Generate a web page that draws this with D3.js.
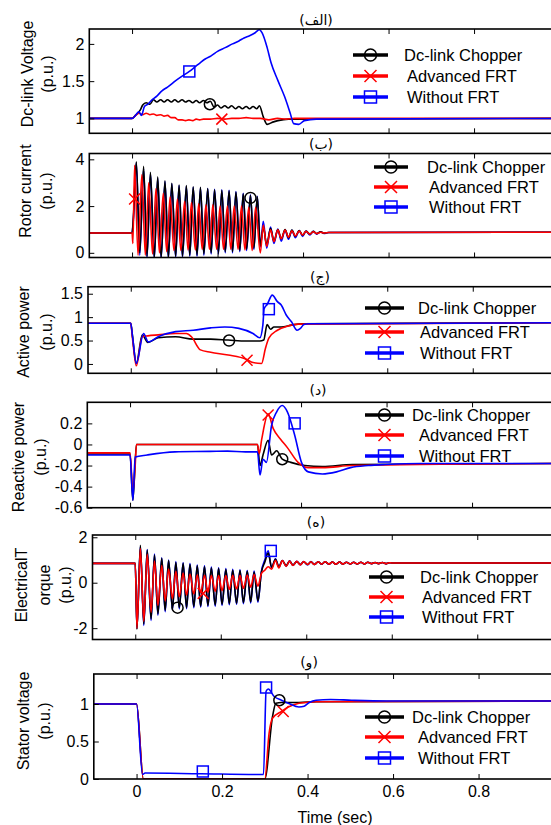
<!DOCTYPE html>
<html>
<head>
<meta charset="utf-8">
<script src="https://cdn.jsdelivr.net/npm/d3@7"></script>
<style>
  body { margin: 0; background: #fff; }
  svg { display: block; font-family: "Liberation Sans", Arial, sans-serif; }
</style>
</head>
<body>
<div id="chart"></div>
<script>
// ---- (الف) Dc-link voltage ----
const dcChopperT = [-0.1, 0, 0.008, 0.019, 0.025, 0.033, 0.042, 0.050, 0.058, 0.067, 0.075, 0.083, 0.092, 0.100, 0.108, 0.117, 0.125, 0.133, 0.142, 0.150, 0.158, 0.167, 0.175, 0.183, 0.192, 0.200, 0.208, 0.217, 0.225, 0.233, 0.242, 0.250, 0.258, 0.267, 0.275, 0.283, 0.292, 0.298, 0.307, 0.316, 0.329, 0.341, 0.366, 1.0];
const dcChopperV = [1, 1, 1.04, 1.11, 1.18, 1.21, 1.19, 1.25, 1.22, 1.25, 1.22, 1.25, 1.22, 1.25, 1.22, 1.25, 1.22, 1.24, 1.21, 1.24, 1.21, 1.24, 1.21, 1.23, 1.15, 1.18, 1.14, 1.17, 1.14, 1.17, 1.13, 1.16, 1.13, 1.16, 1.13, 1.16, 1.13, 1.17, 1.02, 0.92, 0.95, 0.97, 0.99, 1.0];
const dcAdvancedT = [-0.1, 0, 0.008, 0.017, 0.025, 0.033, 0.042, 0.050, 0.058, 0.067, 0.075, 0.083, 0.092, 0.100, 0.108, 0.117, 0.125, 0.133, 0.142, 0.150, 0.158, 0.167, 0.183, 0.200, 0.217, 0.233, 0.250, 0.267, 0.283, 0.300, 0.320, 0.340, 0.360, 0.380, 1.0];
const dcAdvancedV = [1, 1, 1.04, 1.07, 1.05, 1.07, 1.05, 1.06, 1.04, 1.05, 1.03, 1.04, 1.01, 1.01, 0.98, 0.98, 0.97, 0.98, 0.97, 0.99, 0.98, 0.99, 0.99, 1.0, 0.99, 1.0, 1.0, 1.01, 1.0, 1.0, 0.98, 1.0, 0.99, 1.0, 1.0];
const dcWithoutT = [-0.1, 0, 0.008, 0.016, 0.022, 0.029, 0.037, 0.045, 0.058, 0.070, 0.083, 0.103, 0.118, 0.134, 0.147, 0.160, 0.172, 0.185, 0.200, 0.218, 0.235, 0.250, 0.262, 0.275, 0.288, 0.298, 0.304, 0.316, 0.325, 0.341, 0.357, 0.370, 0.378, 0.390, 0.403, 0.431, 1.0];
const dcWithoutV = [1, 1, 1.04, 1.09, 1.04, 1.16, 1.19, 1.24, 1.30, 1.37, 1.42, 1.51, 1.57, 1.63, 1.69, 1.75, 1.80, 1.84, 1.90, 1.95, 2.00, 2.04, 2.08, 2.11, 2.15, 2.19, 2.15, 1.95, 1.75, 1.51, 1.29, 1.07, 0.93, 0.92, 0.97, 0.99, 1.0];
const dcMarkers = [["chopper", 0.182, 1.19], ["advanced", 0.21, 0.99], ["without", 0.134, 1.63]];

// ---- (ب) Rotor current ----
const rotorT = [-0.1, 0, 0.003,
  0.010, 0.018, 0.027, 0.035, 0.043, 0.052, 0.060, 0.068, 0.077, 0.085, 0.093, 0.102, 0.110, 0.118, 0.127, 0.135, 0.143, 0.152,
  0.160, 0.168, 0.177, 0.185, 0.193, 0.202, 0.210, 0.218, 0.227, 0.235, 0.243, 0.252, 0.260, 0.268, 0.277, 0.285, 0.293,
  0.300, 0.307, 0.315, 0.324, 0.332, 0.341, 0.349, 0.358, 0.366, 0.374, 0.382, 0.391, 0.399, 0.407, 0.416, 0.424, 0.432, 0.441, 0.449, 0.460, 1.0];
const rotorRedT = [-0.1, 0, 0.002,
  0.006, 0.014, 0.023, 0.031, 0.039, 0.048, 0.056, 0.064, 0.073, 0.081, 0.089, 0.098, 0.106, 0.114, 0.123, 0.131, 0.139, 0.148,
  0.156, 0.164, 0.173, 0.181, 0.189, 0.198, 0.206, 0.214, 0.223, 0.231, 0.239, 0.248, 0.256, 0.264, 0.273, 0.281, 0.289,
  0.300, 0.307, 0.315, 0.324, 0.332, 0.341, 0.349, 0.358, 0.366, 0.374, 0.382, 0.391, 0.399, 0.407, 0.416, 0.424, 0.432, 0.441, 0.449, 0.460, 1.0];
const rotorChopper = [0.85, 0.85, 1.5,
  3.9, 0.0, 3.7, -0.15, 3.45, -0.2, 3.25, -0.2, 3.08, -0.2, 2.97, -0.15, 2.9, -0.15, 2.88, -0.1, 2.82, -0.1,
  2.8, -0.05, 2.75, 0.0, 2.7, 0.0, 2.68, 0.05, 2.65, 0.05, 2.6, 0.1, 2.53, 0.15, 2.46, 0.2, 2.4,
  0.3, 1.1, 0.35, 1.05, 0.5, 1.0, 0.6, 1.0, 0.65, 0.97, 0.7, 0.95, 0.75, 0.93, 0.8, 0.92, 0.82, 0.9, 0.84, 0.87, 0.88];
const rotorAdvanced = [0.85, 0.85, 0.4,
  3.75, -0.1, 3.35, -0.1, 3.0, -0.05, 2.75, 0.0, 2.55, 0.05, 2.4, 0.1, 2.3, 0.1, 2.2, 0.12, 2.15, 0.12,
  2.1, 0.15, 2.05, 0.15, 2.05, 0.15, 2.0, 0.15, 2.0, 0.15, 2.0, 0.15, 2.0, 0.12, 1.95, 0.1, 1.95,
  0.0, 1.19, 0.27, 0.98, 0.48, 0.98, 0.6, 0.97, 0.67, 0.94, 0.72, 0.93, 0.76, 0.92, 0.8, 0.9, 0.82, 0.88, 0.85, 0.87, 0.88];
const rotorWithout = [0.85, 0.85, 1.4,
  3.85, -0.1, 3.6, -0.2, 3.4, -0.25, 3.2, -0.25, 3.05, -0.25, 2.95, -0.2, 2.88, -0.2, 2.85, -0.15, 2.8, -0.15,
  2.78, -0.1, 2.75, -0.05, 2.72, -0.05, 2.7, 0.0, 2.68, 0.0, 2.62, 0.05, 2.55, 0.1, 2.48, 0.15, 2.42,
  0.25, 1.35, 0.2, 1.1, 0.4, 1.02, 0.5, 0.98, 0.58, 0.96, 0.65, 0.95, 0.7, 0.93, 0.76, 0.92, 0.8, 0.9, 0.83, 0.87, 0.88];
const rotorMarkers = [["chopper", 0.277, 2.35], ["advanced", 0.006, 2.3]];

// ---- (ج) Active power ----
const apChopperT = [-0.1, 0, 0.004, 0.013, 0.027, 0.040, 0.064, 0.105, 0.146, 0.187, 0.228, 0.270, 0.302, 0.311, 0.319, 0.327, 0.335, 0.352, 0.376, 0.400, 1.0];
const apChopperV = [0.87, 0.87, 0.6, 0.01, 0.62, 0.46, 0.56, 0.58, 0.53, 0.53, 0.51, 0.49, 0.49, 0.51, 0.84, 0.74, 0.79, 0.79, 0.83, 0.86, 0.88];
const apAdvancedT = [-0.1, 0, 0.004, 0.013, 0.027, 0.040, 0.064, 0.105, 0.130, 0.142, 0.163, 0.187, 0.228, 0.270, 0.286, 0.306, 0.315, 0.323, 0.343, 0.368, 0.393, 1.0];
const apAdvancedV = [0.87, 0.87, 0.55, -0.04, 0.58, 0.6, 0.62, 0.65, 0.65, 0.58, 0.3, 0.25, 0.19, 0.1, 0.03, 0.01, 0.33, 0.55, 0.72, 0.81, 0.85, 0.88];
const apWithoutT = [-0.1, 0, 0.004, 0.013, 0.030, 0.041, 0.064, 0.105, 0.146, 0.187, 0.220, 0.253, 0.286, 0.302, 0.309, 0.312, 0.319, 0.331, 0.343, 0.352, 0.364, 0.376, 0.389, 0.397, 0.405, 0.417, 1.0];
const apWithoutV = [0.87, 0.87, 0.6, 0.01, 0.65, 0.47, 0.58, 0.69, 0.72, 0.77, 0.79, 0.76, 0.65, 0.56, 0.83, 1.18, 1.27, 1.47, 1.33, 1.26, 1.04, 0.9, 0.72, 0.76, 0.84, 0.86, 0.88];
const apMarkers = [["chopper", 0.23, 0.5], ["advanced", 0.272, 0.08], ["without", 0.323, 1.17]];

// ---- (د) Reactive power ----
const rpChopperT = [-0.1, 0, 0.0066, 0.015, 0.298, 0.304, 0.311, 0.323, 0.331, 0.343, 0.356, 0.376, 0.409, 0.45, 0.52, 1.0];
const rpChopperV = [-0.09, -0.09, -0.53, 0.0, 0.0, -0.2, -0.1, 0.04, -0.1, -0.06, -0.14, -0.17, -0.2, -0.21, -0.19, -0.18];
const rpAdvancedT = [-0.1, 0, 0.0066, 0.012, 0.015, 0.298, 0.302, 0.308, 0.323, 0.335, 0.352, 0.368, 0.393, 0.417, 0.45, 0.52, 1.0];
const rpAdvancedV = [-0.08, -0.08, -0.45, -0.2, 0.0, 0.0, -0.09, 0.05, 0.29, 0.15, 0.05, -0.03, -0.17, -0.22, -0.22, -0.2, -0.18];
const rpWithoutT = [-0.1, 0, 0.0066, 0.012, 0.04, 0.105, 0.187, 0.228, 0.27, 0.298, 0.304, 0.311, 0.319, 0.331, 0.343, 0.356, 0.368, 0.385, 0.401, 0.417, 0.45, 0.483, 0.516, 0.557, 0.598, 0.68, 1.0];
const rpWithoutV = [-0.1, -0.1, -0.53, -0.12, -0.1, -0.07, -0.066, -0.063, -0.07, -0.07, -0.29, -0.14, -0.17, 0.18, 0.31, 0.37, 0.31, 0.09, -0.17, -0.26, -0.28, -0.26, -0.22, -0.2, -0.19, -0.18, -0.18];
const rpMarkers = [["chopper", 0.356, -0.14], ["advanced", 0.323, 0.28], ["without", 0.385, 0.2]];

// ---- (ه) Electrical torque ----
const torqueT = [-0.1, 0, 0.004,
  0.012, 0.020, 0.028, 0.037, 0.045, 0.053, 0.062, 0.070, 0.078, 0.087, 0.095, 0.103, 0.112, 0.120, 0.128, 0.137, 0.145, 0.153,
  0.162, 0.170, 0.178, 0.187, 0.195, 0.203, 0.212, 0.220, 0.228, 0.237, 0.245, 0.253, 0.262, 0.270, 0.278, 0.287, 0.295,
  0.303, 0.311, 0.319, 0.328, 0.336, 0.344, 0.353, 0.361, 0.369, 0.378, 0.386, 0.394, 0.403, 0.411, 0.419, 0.428, 0.436, 0.444, 0.453, 0.461,
  0.469, 0.478, 0.486, 0.494, 0.503, 0.511, 0.519, 0.528, 0.536, 0.544, 0.553, 0.561, 0.569, 0.578, 0.586, 0.594, 0.600, 1.0];
const torqueChopper = [0.85, 0.85, -2.05,
  1.65, -1.82, 1.44, -1.6, 1.22, -1.37, 1.07, -1.22, 0.97, -1.15, 0.89, -1.1, 0.85, -1.1, 0.8, -1.05, 0.74, -1.02,
  0.7, -1.0, 0.65, -0.98, 0.62, -0.95, 0.58, -0.92, 0.55, -0.9, 0.53, -0.87, 0.5, -0.84, 0.47, -0.8, 0.45,
  0.9, 1.3, 0.68, 1.03, 0.7, 0.97, 0.75, 0.95, 0.78, 0.93, 0.8, 0.92, 0.8, 0.92, 0.8, 0.92, 0.82, 0.92, 0.82, 0.91,
  0.82, 0.91, 0.82, 0.9, 0.83, 0.9, 0.83, 0.9, 0.83, 0.9, 0.84, 0.89, 0.84, 0.89, 0.84, 0.88, 0.87, 0.87];
const torqueAdvanced = [0.85, 0.85, -2.0,
  1.5, -1.7, 1.25, -1.3, 0.95, -1.0, 0.75, -0.8, 0.6, -0.7, 0.5, -0.62, 0.42, -0.55, 0.38, -0.5, 0.35, -0.45,
  0.33, -0.42, 0.32, -0.38, 0.32, -0.35, 0.32, -0.3, 0.33, -0.28, 0.33, -0.25, 0.34, -0.2, 0.36, -0.15, 0.4,
  0.55, 0.7, 0.6, 0.98, 0.65, 0.97, 0.72, 0.95, 0.76, 0.94, 0.78, 0.93, 0.8, 0.92, 0.8, 0.92, 0.82, 0.92, 0.82, 0.91,
  0.82, 0.91, 0.82, 0.9, 0.83, 0.9, 0.83, 0.9, 0.83, 0.9, 0.84, 0.89, 0.84, 0.89, 0.84, 0.88, 0.87, 0.87];
const torqueWithout = [0.85, 0.85, -2.0,
  1.6, -1.88, 1.46, -1.66, 1.26, -1.43, 1.1, -1.28, 1.0, -1.2, 0.93, -1.15, 0.88, -1.14, 0.84, -1.1, 0.78, -1.07,
  0.74, -1.05, 0.69, -1.03, 0.66, -1.0, 0.62, -0.97, 0.59, -0.95, 0.57, -0.92, 0.54, -0.89, 0.51, -0.85, 0.49,
  1.0, 1.4, 0.65, 1.05, 0.68, 0.98, 0.73, 0.96, 0.77, 0.94, 0.79, 0.93, 0.79, 0.93, 0.8, 0.92, 0.81, 0.92, 0.81, 0.91,
  0.82, 0.91, 0.82, 0.9, 0.83, 0.9, 0.83, 0.9, 0.83, 0.9, 0.84, 0.89, 0.84, 0.89, 0.84, 0.88, 0.87, 0.87];
const torqueMarkers = [["chopper", 0.099, -1.1], ["advanced", 0.159, -0.47], ["without", 0.317, 1.4]];

// ---- (و) Stator voltage ----
const svChopperT = [-0.1, 0, 0.016, 0.3, 0.318, 0.326, 0.339, 0.38, 0.42, 1.0];
const svChopperV = [1, 1, 0, 0, 0.83, 1.01, 1.02, 1.02, 1.03, 1.04];
const svAdvancedT = [-0.1, 0, 0.016, 0.3, 0.31, 0.318, 0.339, 0.355, 0.38, 0.42, 1.0];
const svAdvancedV = [1, 1, 0, 0, 0.61, 0.81, 0.9, 0.96, 1.01, 1.03, 1.04];
const svWithoutT = [-0.1, 0, 0.014, 0.02, 0.15, 0.297, 0.303, 0.308, 0.322, 0.339, 0.355, 0.38, 0.392, 0.404, 0.42, 0.454, 0.503, 0.585, 1.0];
const svWithoutV = [1, 1, 0.06, 0.08, 0.07, 0.06, 1.17, 1.2, 1.1, 1.05, 1.01, 0.96, 0.97, 1.02, 1.05, 1.06, 1.05, 1.04, 1.04];
const svMarkers = [["without", 0.155, 0.1], ["without", 0.303, 1.22], ["chopper", 0.334, 1.05], ["advanced", 0.343, 0.9]];

const timeTicks = [0, 0.2, 0.4, 0.6, 0.8, 1.0];
const timeTickLabels = ["0", "0.2", "0.4", "0.6", "0.8", ""];
const seriesKeys = ["chopper", "advanced", "without"];
const seriesNames = { chopper: "Dc-link Chopper", advanced: "Advanced FRT", without: "Without FRT" };
const seriesColors = { chopper: "#000000", advanced: "#ff0000", without: "#0000ff" };
const seriesMarks = { chopper: "circle", advanced: "cross", without: "square" };

const panels = [
  { title: "(الف)", titleX: 316, titleY: 20, left: 89.3, top: 29, bottom: 133.3,
    yDomain: [0.8, 2.2], yTicks: [1, 1.5, 2], label: ["Dc-link Voltage", "(p.u.)"], labelX: [27, 47], labelY: 74,
    legend: { x1: 353, x2: 388, tx: [404, 407, 407], ty: [55, 76, 97] },
    series: [["chopper", dcChopperT, dcChopperV], ["advanced", dcAdvancedT, dcAdvancedV], ["without", dcWithoutT, dcWithoutV]],
    markers: dcMarkers },
  { title: "(ب)", titleX: 321, titleY: 144, left: 89.3, top: 153.5, bottom: 257.5,
    yDomain: [-0.2, 4.25], yTicks: [0, 2, 4], label: ["Rotor current", "(p.u.)"], labelX: [25, 46], labelY: 191,
    legend: { x1: 374, x2: 408, tx: [427, 429, 429], ty: [167, 187, 207] },
    series: [["without", rotorT, rotorWithout], ["chopper", rotorT, rotorChopper], ["advanced", rotorRedT, rotorAdvanced]],
    markers: rotorMarkers },
  { title: "(ج)", titleX: 320, titleY: 277, left: 88, top: 286.7, bottom: 373.3,
    yDomain: [-0.2, 1.65], yTicks: [0, 0.5, 1, 1.5], label: ["Active power", "(p.u.)"], labelX: [23, 46], labelY: 332,
    legend: { x1: 365, x2: 404, tx: [418, 420, 420], ty: [308, 332, 353] },
    series: [["chopper", apChopperT, apChopperV], ["advanced", apAdvancedT, apAdvancedV], ["without", apWithoutT, apWithoutV]],
    markers: apMarkers },
  { title: "(د)", titleX: 318, titleY: 390, left: 87.3, top: 402.3, bottom: 507.7,
    yDomain: [-0.6, 0.4], yTicks: [-0.6, -0.4, -0.2, 0, 0.2], label: ["Reactive power", "(p.u.)"], labelX: [18, 40], labelY: 457,
    legend: { x1: 365, x2: 404, tx: [412, 419, 419], ty: [415, 435, 456] },
    series: [["chopper", rpChopperT, rpChopperV], ["advanced", rpAdvancedT, rpAdvancedV], ["without", rpWithoutT, rpWithoutV]],
    markers: rpMarkers },
  { title: "(ه)", titleX: 316, titleY: 522, left: 92.5, top: 535, bottom: 639.5,
    yDomain: [-2.5, 2.1], yTicks: [-2, 0, 2], label: ["ElectricalT", "orque", "(p.u.)"], labelX: [21, 44, 65], labelY: 585,
    legend: { x1: 369, x2: 404, tx: [420, 422, 422], ty: [577, 597, 617] },
    series: [["without", torqueT, torqueWithout], ["chopper", torqueT, torqueChopper], ["advanced", torqueT, torqueAdvanced]],
    markers: torqueMarkers },
  { title: "(و)", titleX: 309, titleY: 662, left: 93.8, top: 674, bottom: 779,
    yDomain: [0, 1.4], yTicks: [0, 0.5, 1], label: ["Stator voltage", "(p.u.)"], labelX: [23, 44], labelY: 721,
    legend: { x1: 365, x2: 404, tx: [412, 418, 418], ty: [717, 737, 758] },
    series: [["chopper", svChopperT, svChopperV], ["advanced", svAdvancedT, svAdvancedV], ["without", svWithoutT, svWithoutV]],
    markers: svMarkers, xLabels: true }
];

const width = 551, height = 825;
const plotW = 470.25; // -0.1 .. 1.0 s

const svg = d3.select("#chart").append("svg")
  .attr("width", width)
  .attr("height", height);

function drawMark(g, type, cx, cy, color, s) {
  if (type === "circle") {
    g.append("circle").attr("cx", cx).attr("cy", cy).attr("r", s)
      .attr("fill", "none").attr("stroke", color).attr("stroke-width", 1.5);
  } else if (type === "cross") {
    g.append("path")
      .attr("d", `M${cx - s},${cy - s}L${cx + s},${cy + s}M${cx - s},${cy + s}L${cx + s},${cy - s}`)
      .attr("stroke", color).attr("stroke-width", 1.5).attr("fill", "none");
  } else {
    g.append("rect").attr("x", cx - s).attr("y", cy - s).attr("width", 2 * s).attr("height", 2 * s)
      .attr("fill", "none").attr("stroke", color).attr("stroke-width", 1.5);
  }
}

panels.forEach((p, pi) => {
  const x = d3.scaleLinear().domain([-0.1, 1.0]).range([p.left, p.left + plotW]);
  const y = d3.scaleLinear().domain(p.yDomain).range([p.bottom, p.top]);
  const g = svg.append("g");

  g.append("clipPath").attr("id", "clip" + pi)
    .append("rect")
    .attr("x", p.left).attr("y", p.top)
    .attr("width", plotW).attr("height", p.bottom - p.top);

  // series lines
  const line = d3.line().curve(d3.curveMonotoneX).x(d => x(d[0])).y(d => y(d[1]));
  p.series.forEach(([key, ts, vs]) => {
    g.append("path")
      .datum(ts.map((t, i) => [t, vs[i]]))
      .attr("clip-path", `url(#clip${pi})`)
      .attr("d", line)
      .attr("fill", "none")
      .attr("stroke", seriesColors[key])
      .attr("stroke-width", 1.6)
      .attr("stroke-linejoin", "round");
  });

  // data markers
  p.markers.forEach(([key, t, v]) => {
    drawMark(g, seriesMarks[key], x(t), y(v), seriesColors[key], 5.5);
  });

  // axes (MATLAB style: ticks inward)
  const yAxis = d3.axisLeft(y).tickValues(p.yTicks).tickSizeInner(-5).tickSizeOuter(0)
    .tickPadding(5).tickFormat(d => String(d));
  const ya = g.append("g").attr("transform", `translate(${p.left},0)`).call(yAxis);
  ya.select(".domain").remove();

  const xTop = d3.axisTop(x).tickValues(timeTicks).tickSizeInner(-5).tickSizeOuter(0).tickFormat("");
  const xt = g.append("g").attr("transform", `translate(0,${p.top})`).call(xTop);
  xt.select(".domain").remove();

  const xBot = d3.axisBottom(x).tickValues(timeTicks).tickSizeInner(-5).tickSizeOuter(0)
    .tickPadding(7).tickFormat(p.xLabels ? ((d, i) => timeTickLabels[i]) : "");
  const xb = g.append("g").attr("transform", `translate(0,${p.bottom})`).call(xBot);
  xb.select(".domain").remove();

  g.selectAll(".tick line").attr("stroke", "#000").attr("stroke-width", 1);
  g.selectAll(".tick text").attr("font-size", 16).attr("fill", "#000")
    .attr("font-family", "'Liberation Sans', Arial, sans-serif");

  g.append("rect")
    .attr("x", p.left).attr("y", p.top)
    .attr("width", plotW).attr("height", p.bottom - p.top)
    .attr("fill", "none").attr("stroke", "#000").attr("stroke-width", 1.6);

  // title
  g.append("text")
    .attr("x", p.titleX).attr("y", p.titleY)
    .attr("text-anchor", "middle").attr("dominant-baseline", "central")
    .attr("font-family", "'DejaVu Sans', sans-serif")
    .attr("font-size", 14)
    .text(p.title);

  // y label
  p.label.forEach((txt, li) => {
    g.append("text")
      .attr("transform", `translate(${p.labelX[li]},${p.labelY}) rotate(-90)`)
      .attr("text-anchor", "middle").attr("dominant-baseline", "central")
      .attr("font-size", 16)
      .text(txt);
  });

  // legend
  const lg = g.append("g");
  seriesKeys.forEach((key, i) => {
    const ly = p.legend.ty[i];
    lg.append("line")
      .attr("x1", p.legend.x1).attr("x2", p.legend.x2)
      .attr("y1", ly).attr("y2", ly)
      .attr("stroke", seriesColors[key]).attr("stroke-width", 3.5);
    drawMark(lg, seriesMarks[key], (p.legend.x1 + p.legend.x2) / 2, ly, seriesColors[key], 6);
    lg.append("text")
      .attr("x", p.legend.tx[i]).attr("y", ly)
      .attr("dominant-baseline", "central")
      .attr("font-size", 16.5)
      .text(seriesNames[key]);
  });

  if (p.xLabels) {
    g.append("text")
      .attr("x", 335).attr("y", 817)
      .attr("text-anchor", "middle").attr("dominant-baseline", "central")
      .attr("font-size", 16)
      .text("Time (sec)");
  }
});
</script>
</body>
</html>
